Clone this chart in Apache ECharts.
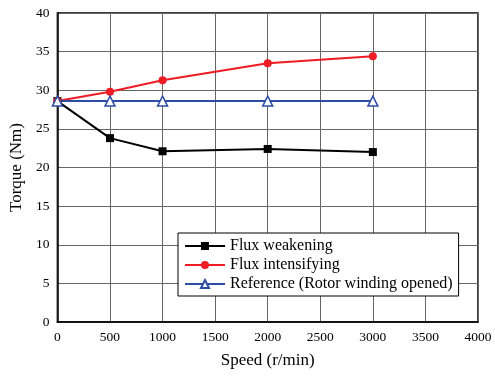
<!DOCTYPE html>
<html>
<head>
<meta charset="utf-8">
<script src="https://cdn.jsdelivr.net/npm/echarts@6/dist/echarts.min.js"></script>
<style>html,body{margin:0;padding:0;background:#fff}#main{width:495px;height:376px}</style>
</head>
<body>
<div id="main"></div>
<script>
var speeds = [0, 500, 1000, 2000, 3000];
var fluxWeakening = [28.6, 23.8, 22.1, 22.4, 22.0];
var fluxIntensifying = [28.6, 29.8, 31.3, 33.5, 34.4];
var reference = [28.6, 28.6, 28.6, 28.6, 28.6];

function pairs(ys) {
    return speeds.map(function (x, i) { return [x, ys[i]]; });
}

var myChart = echarts.init(document.getElementById('main'));
var font = 'Liberation Serif';
var option = {
    animation: false,
    textStyle: {fontFamily: font},
    grid: {left: 56, right: 17, top: 13, bottom: 54, show: true, borderColor: '#000', borderWidth: 1.5},
    legend: {
        orient: 'vertical',
        left: 178,
        top: 233,
        padding: [5, 6, 4, 6],
        itemGap: 3,
        itemWidth: 40,
        itemHeight: 10,
        borderColor: '#000',
        borderWidth: 1,
        backgroundColor: '#fff',
        textStyle: {fontFamily: font, fontSize: 16, color: '#000'},
        data: ['Flux weakening', 'Flux intensifying', 'Reference (Rotor winding opened)']
    },
    xAxis: {
        type: 'value',
        min: 0, max: 4000, interval: 500,
        name: 'Speed (r/min)',
        nameLocation: 'middle',
        nameGap: 30,
        nameTextStyle: {fontFamily: font, fontSize: 17, color: '#000'},
        axisLine: {lineStyle: {color: '#000', width: 1.5}},
        axisTick: {show: false},
        axisLabel: {fontFamily: font, fontSize: 13.5, color: '#000', margin: 8,
            formatter: function (v) { return String(v); }},
        splitLine: {lineStyle: {color: '#666', width: 1}}
    },
    yAxis: {
        type: 'value',
        min: 0, max: 40, interval: 5,
        name: 'Torque (Nm)',
        nameLocation: 'middle',
        nameGap: 32,
        nameTextStyle: {fontFamily: font, fontSize: 17, color: '#000'},
        axisLine: {show: true, lineStyle: {color: '#000', width: 1.5}},
        axisTick: {show: false},
        axisLabel: {fontFamily: font, fontSize: 13.5, color: '#000', margin: 8},
        splitLine: {lineStyle: {color: '#666', width: 1}}
    },
    series: [
        {
            name: 'Flux weakening',
            type: 'line',
            data: pairs(fluxWeakening),
            symbol: 'rect',
            symbolSize: 8,
            color: '#000',
            lineStyle: {color: '#000', width: 2},
            itemStyle: {color: '#000'}
        },
        {
            name: 'Flux intensifying',
            type: 'line',
            data: pairs(fluxIntensifying),
            symbol: 'circle',
            symbolSize: 8,
            color: '#ee1c24',
            lineStyle: {color: '#ee1c24', width: 2},
            itemStyle: {color: '#ee1c24'}
        },
        {
            name: 'Reference (Rotor winding opened)',
            type: 'line',
            data: pairs(reference),
            symbol: 'triangle',
            symbolSize: 10,
            color: '#2e4ea6',
            lineStyle: {color: '#2e4ea6', width: 2},
            itemStyle: {color: '#fff', borderColor: '#2e4ea6', borderWidth: 1.5}
        }
    ]
};
myChart.setOption(option);
</script>
</body>
</html>
